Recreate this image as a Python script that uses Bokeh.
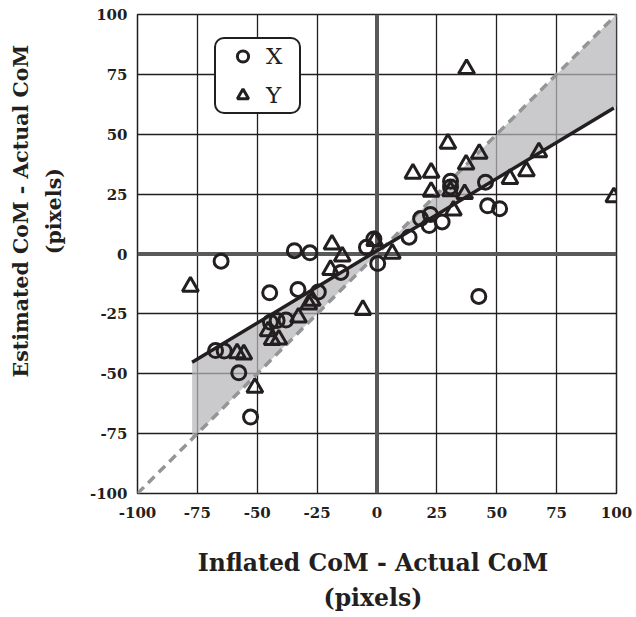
from bokeh.plotting import figure
from bokeh.models import FixedTicker, Span, Legend, LegendItem
from bokeh.embed import file_html
from bokeh.resources import INLINE

# ---- data -------------------------------------------------------------
ticks = [-100, -75, -50, -25, 0, 25, 50, 75, 100]
tick_labels = {t: str(t) for t in ticks}

x_series_x = [-65.1, -34.5, -28.0, -44.8, -33.0, -24.5, -15.1, -44.5, -41.7, -38.0,
              -67.4, -63.8, -57.7, -52.8, -4.4, -1.3, 0.3, 13.4, 18.2, 22.3,
              27.2, 21.8, 30.7, 30.7, 45.3, 46.2, 51.2, 42.5]
x_series_y = [-3.0, 1.4, 0.5, -16.2, -14.8, -15.9, -7.7, -28.5, -27.8, -27.6,
              -40.3, -40.5, -49.6, -68.1, 2.8, 6.3, -4.0, 7.0, 14.8, 16.5,
              13.4, 11.9, 30.4, 28.0, 30.0, 20.1, 18.9, -17.7]

y_series_x = [-77.9, -18.8, -14.5, -19.4, -28.5, -27.0, -32.8, -45.5, -43.8, -41.0,
              -5.9, -58.4, -55.6, -51.0, 6.4, -1.0, 15.0, 22.6, 29.6, 42.7,
              37.2, 37.4, 22.6, 36.6, 31.9, 30.7, 55.5, 62.4, 67.6, 98.9]
y_series_y = [-13.6, 4.0, -1.0, -6.6, -21.0, -19.5, -26.5, -32.2, -35.9, -35.7,
              -23.3, -41.4, -41.9, -55.8, 0.2, 5.5, 33.6, 34.0, 46.1, 41.9,
              37.4, 77.3, 26.0, 25.1, 18.2, 26.3, 31.4, 34.6, 42.5, 23.7]

fit_slope = 0.603
fit_intercept = 1.35
fit_range = [-77.2, 98.9]
shade_range = [-77.2, 100.0]
identity_range = [-100, 100]

legend_labels = ["X", "Y"]
x_title = "Inflated CoM - Actual CoM"
y_title = "Estimated CoM - Actual CoM"
unit_title = "(pixels)"

# ---- styles -----------------------------------------------------------
INK = "#231f20"
ZERO = "#58595b"
DASH = "#939598"
SHADE = "#b5b6b8"
FONT = "DejaVu Serif"

fit_y = [fit_slope * v + fit_intercept for v in fit_range]
shade_top = [v for v in shade_range]
shade_bot = [fit_slope * v + fit_intercept for v in shade_range]

p = figure(frame_width=479, frame_height=479,
           x_range=(-100, 100), y_range=(-100, 100),
           output_backend="svg", toolbar_location=None,
           min_border_left=137, min_border_right=19,
           min_border_top=14, min_border_bottom=123,
           background_fill_color="white", border_fill_color="white")

p.outline_line_color = INK
p.outline_line_width = 1.5
p.outline_line_alpha = 1.0

for g in (p.xgrid, p.ygrid):
    g.ticker = FixedTicker(ticks=ticks)
    g.grid_line_color = INK
    g.grid_line_width = 1.3
    g.grid_line_alpha = 1.0

for ax in (p.xaxis, p.yaxis):
    ax.ticker = FixedTicker(ticks=ticks)
    ax.major_label_overrides = tick_labels
    ax.axis_line_color = None
    ax.major_tick_line_color = None
    ax.minor_tick_line_color = None
    ax.major_label_text_font = FONT
    ax.major_label_text_font_style = "bold"
    ax.major_label_text_font_size = "15px"
    ax.major_label_text_color = INK
    ax.axis_label_text_font = FONT
    ax.axis_label_text_font_style = "bold"
    ax.axis_label_text_color = INK
p.xaxis.major_label_standoff = 7
p.yaxis.major_label_standoff = 4

# two-line axis titles (shifted with no-break spaces to match the original placement)
pad = "\u00a0" * 12
tail = "\u00a0"
p.xaxis.axis_label = x_title + tail + "\n" + unit_title + tail
p.xaxis.axis_label_text_font_size = "23.5px"
p.xaxis.axis_label_text_line_height = 1.25
p.xaxis.axis_label_standoff = 28

p.yaxis.axis_label = pad + y_title + "\n" + pad + unit_title
p.yaxis.axis_label_text_font_size = "20.5px"
p.yaxis.axis_label_text_line_height = 1.38
p.yaxis.axis_label_standoff = 21

# zero lines
p.add_layout(Span(location=0, dimension="height", line_color=ZERO, line_width=4, level="underlay"))
p.add_layout(Span(location=0, dimension="width", line_color=ZERO, line_width=4, level="underlay"))

# shaded region between identity and fit
p.varea(x=shade_range, y1=shade_top, y2=shade_bot, fill_color=SHADE, fill_alpha=0.72)

# identity dashed line
p.line(identity_range, identity_range, line_color=DASH, line_width=3.5, line_dash="9 6")

# fit line
p.line(fit_range, fit_y, line_color=INK, line_width=3.5)

rc = p.scatter(x_series_x, x_series_y, marker="circle", size=14, line_width=3,
               line_color=INK, fill_color=None)
rt = p.scatter(y_series_x, y_series_y, marker="triangle", size=16, line_width=3,
               line_color=INK, fill_color=None)

legend = Legend(items=[LegendItem(label=legend_labels[0], renderers=[rc]),
                       LegendItem(label=legend_labels[1], renderers=[rt])],
                location=(77, 379))
legend.padding = 3
legend.glyph_width = 47
legend.glyph_height = 28
legend.label_height = 28
legend.label_width = 30
legend.label_standoff = 0
legend.spacing = 11
legend.margin = 0
legend.label_text_font = FONT
legend.label_text_font_size = "23px"
legend.label_text_color = INK
legend.border_line_color = INK
legend.border_line_width = 2.5
legend.border_line_alpha = 1.0
legend.background_fill_color = "white"
legend.background_fill_alpha = 1.0
if "border_radius" in Legend.properties():
    legend.border_radius = 10
p.add_layout(legend)

open("out.html", "w").write(file_html(p, INLINE))
